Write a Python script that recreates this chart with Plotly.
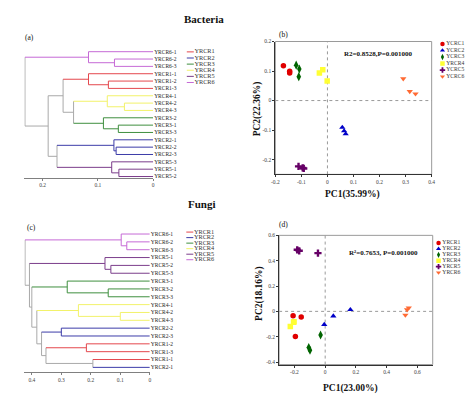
import plotly.graph_objects as go

W, H = 474, 397
FONT = "Liberation Serif"

# ---------------- data ----------------
groups = ["YRCR1", "YRCR2", "YRCR3", "YRCR4", "YRCR5", "YRCR6"]
dendro_colors = ["#e4474d", "#3c3ca8", "#3f8f3f", "#f2f26a", "#7b3d8b", "#c66ad6"]
link_gray = "#a9a9a9"

# Bacteria clustering (a): leaf order top->bottom, merges (child a, child b, height)
bac_leaves = ["YRCR6-1", "YRCR6-2", "YRCR6-3", "YRCR1-1", "YRCR1-2", "YRCR1-3",
              "YRCR4-1", "YRCR4-2", "YRCR4-3", "YRCR3-2", "YRCR3-1", "YRCR3-3",
              "YRCR2-1", "YRCR2-2", "YRCR2-3", "YRCR5-3", "YRCR5-1", "YRCR5-2"]
bac_merge_a = [1, 0, 4, 3, 7, 6, 10, 9, 23, 21, 13, 12, 16, 15, 29, 27, 19]
bac_merge_b = [2, 18, 5, 20, 8, 22, 11, 24, 25, 26, 14, 28, 17, 30, 31, 32, 33]
bac_merge_h = [0.070, 0.117, 0.081, 0.117, 0.052, 0.083, 0.063, 0.090, 0.144,
               0.163, 0.067, 0.071, 0.062, 0.075, 0.174, 0.190, 0.232]
bac_dendro_ticks = [0, 0.1, 0.2]
bac_dendro_ticktext = ["0", "0.1", "0.2"]

# Fungi clustering (c)
fun_leaves = ["YRCR6-1", "YRCR6-2", "YRCR6-3", "YRCR5-1", "YRCR5-2", "YRCR5-3",
              "YRCR3-1", "YRCR3-2", "YRCR3-3", "YRCR4-1", "YRCR4-2", "YRCR4-3",
              "YRCR2-2", "YRCR2-3", "YRCR1-2", "YRCR1-3", "YRCR1-1", "YRCR2-1"]
fun_merge_a = [1, 0, 4, 3, 7, 6, 10, 9, 12, 14, 16, 27, 26, 25, 23, 21, 19]
fun_merge_b = [2, 18, 5, 20, 8, 22, 11, 24, 13, 15, 17, 28, 29, 30, 31, 32, 33]
fun_merge_h = [0.078, 0.097, 0.132, 0.152, 0.141, 0.280, 0.100, 0.242, 0.300,
               0.215, 0.193, 0.352, 0.367, 0.383, 0.400, 0.408, 0.423]
fun_dendro_ticks = [0, 0.1, 0.2, 0.3, 0.4]
fun_dendro_ticktext = ["0", "0.1", "0.2", "0.3", "0.4"]

# PCoA bacteria (b)
bac_pca_labels = ["YCRC1", "YCRC2", "YCRC3", "YRCR4", "YCRC5", "YCRC6"]
bac_pc1 = [[-0.169, -0.145, -0.145],
           [0.057, 0.064, 0.070],
           [-0.120, -0.108, -0.110],
           [-0.031, -0.018, -0.001],
           [-0.111, -0.095, -0.091],
           [0.291, 0.316, 0.338]]
bac_pc2 = [[0.118, 0.099, 0.093],
           [-0.091, -0.103, -0.113],
           [0.120, 0.107, 0.081],
           [0.093, 0.104, 0.066],
           [-0.223, -0.228, -0.230],
           [0.074, 0.031, 0.023]]
bac_x_ticks = [-0.2, -0.1, 0, 0.1, 0.2, 0.3, 0.4]
bac_x_ticktext = ["-0.2", "-0.1", "0", "0.1", "0.2", "0.3", "0.4"]
bac_y_ticks = [-0.2, -0.1, 0, 0.1, 0.2]
bac_y_ticktext = ["-0.2", "-0.1", "0", "0.1", "0.2"]

# PCoA fungi (d)
fun_pca_labels = ["YRCR1", "YRCR2", "YRCR3", "YRCR4", "YRCR5", "YRCR6"]
fun_pc1 = [[-0.209, -0.156, -0.194],
           [-0.006, 0.053, 0.164],
           [-0.030, -0.107, -0.099],
           [-0.227, -0.203, -0.206],
           [-0.182, -0.169, -0.047],
           [0.522, 0.533, 0.544]]
fun_pc2 = [[-0.034, -0.044, -0.198],
           [-0.104, -0.037, 0.013],
           [-0.187, -0.286, -0.307],
           [-0.120, -0.081, -0.086],
           [0.486, 0.478, 0.460],
           [-0.029, 0.013, 0.028]]
fun_x_ticks = [-0.2, 0, 0.2, 0.4, 0.6]
fun_x_ticktext = ["-0.2", "0", "0.2", "0.4", "0.6"]
fun_y_ticks = [-0.4, -0.2, 0, 0.2, 0.4, 0.6]
fun_y_ticktext = ["-0.4", "-0.2", "0", "0.2", "0.4", "0.6"]

pca_symbols = ["circle", "triangle-up", "diamond-tall", "square", "cross", "triangle-down"]
pca_colors = ["#e00000", "#0000c8", "#006400", "#ffff33", "#660066", "#ff6a33"]

# ---------------- helpers ----------------
def pxx(p):
    return p / W

def pxy(p):
    return 1 - p / H

fig = go.Figure()


def add_dendro(leaves, ma, mb, mh, xa, ya):
    n = len(leaves)
    ypos = list(range(n))
    hgt = [0.0] * n
    mem = [{int(name[4]) - 1} for name in leaves]
    segs = {}

    def add(key, xs, ys):
        d = segs.setdefault(key, ([], []))
        d[0].extend(xs + [None])
        d[1].extend(ys + [None])

    for a, b, h in zip(ma, mb, mh):
        for c in (a, b):
            key = next(iter(mem[c])) if len(mem[c]) == 1 else -1
            add(key, [hgt[c], h], [ypos[c], ypos[c]])
        u = mem[a] | mem[b]
        key = next(iter(u)) if len(u) == 1 else -1
        add(key, [h, h], [ypos[a], ypos[b]])
        ypos.append((ypos[a] + ypos[b]) / 2)
        hgt.append(h)
        mem.append(u)

    for key in sorted(segs):
        col = link_gray if key < 0 else dendro_colors[key]
        xs, ys = segs[key]
        fig.add_trace(go.Scatter(x=xs, y=ys, mode="lines", xaxis=xa, yaxis=ya,
                                 line=dict(color=col, width=1), showlegend=False,
                                 hoverinfo="skip"))


def add_pca(pc1, pc2, labels, xa, ya, size_scale=1.0):
    for i in range(len(labels)):
        sym = pca_symbols[i]
        size = 5.5 if sym != "diamond-tall" else 6.5
        if sym == "cross":
            size = 6
        fig.add_trace(go.Scatter(x=pc1[i], y=pc2[i], mode="markers", xaxis=xa, yaxis=ya,
                                 name=labels[i], showlegend=False,
                                 marker=dict(symbol=sym, size=size * size_scale,
                                             color=pca_colors[i], line=dict(width=0))))


def add_legend(labels, x0, y0, dy, kind, fsize):
    ys = [y0 + i * dy for i in range(len(labels))]
    xs = [x0] * len(labels)
    if kind == "line":
        marker = dict(symbol="line-ew", size=5, line=dict(color=dendro_colors, width=1))
    else:
        marker = dict(symbol=pca_symbols, size=4.5, color=pca_colors, line=dict(width=0))
    fig.add_trace(go.Scatter(x=xs, y=ys, mode="markers+text", text=labels,
                             textposition="middle right", xaxis="x5", yaxis="y5",
                             textfont=dict(family=FONT, size=fsize, color="#333"),
                             marker=marker, showlegend=False, hoverinfo="skip"))


add_dendro(bac_leaves, bac_merge_a, bac_merge_b, bac_merge_h, "x", "y")
add_pca(bac_pc1, bac_pc2, bac_pca_labels, "x2", "y2")
add_dendro(fun_leaves, fun_merge_a, fun_merge_b, fun_merge_h, "x3", "y3")
add_pca(fun_pc1, fun_pc2, fun_pca_labels, "x4", "y4")

add_legend(groups, 189.5, 49.5, 6.2, "line", 6.3)
add_legend(groups, 189.0, 232.0, 5.6, "line", 6.3)
add_legend(bac_pca_labels, 446.0, 41.5, 6.6, "marker", 5.6)
add_legend(fun_pca_labels, 442.0, 243.0, 6.0, "marker", 5.6)

# ---------------- axes ----------------
tick_font = dict(family=FONT, size=5.5, color="#444")


def dendro_xaxis(rng, px_left, px_right, yanchor, tv, tt):
    return dict(domain=[pxx(px_left), pxx(px_right)], range=rng, anchor=yanchor,
                showline=True, linecolor="#808080", linewidth=1, ticks="outside",
                ticklen=2, tickwidth=1, tickcolor="#808080", tickvals=tv, ticktext=tt,
                tickfont=tick_font, showgrid=False, zeroline=False)


def dendro_yaxis(leaves, rng, px_bottom, px_top, xanchor):
    return dict(domain=[pxy(px_bottom), pxy(px_top)], range=rng, anchor=xanchor,
                side="right", tickvals=list(range(len(leaves))), ticktext=leaves,
                showline=False, ticks="", showgrid=False, zeroline=False,
                tickfont=dict(family=FONT, size=5.5, color="#222"))


def pca_axis(rng, dom, anchor, tv, tt):
    return dict(domain=dom, range=rng, anchor=anchor, showline=True, linecolor="#333",
                linewidth=1, ticks="outside", ticklen=2, tickwidth=1, tickcolor="#333",
                tickvals=tv, ticktext=tt, tickfont=tick_font, showgrid=False,
                zeroline=False)


# (a) 0.1 per 56.2 px, 0 at x=151.7
a_left = 151.7 - 0.233 * 562
c_left = 148.3 - 0.425 * 300

layout_axes = dict(
    xaxis=dendro_xaxis([0.233, 0], a_left, 151.7, "y", bac_dendro_ticks, bac_dendro_ticktext),
    yaxis=dendro_yaxis(bac_leaves, [17.17, -0.5], 177.0, 45.6, "x"),
    xaxis2=pca_axis([-0.2, 0.4], [pxx(276), pxx(435)], "y2", bac_x_ticks, bac_x_ticktext),
    yaxis2=pca_axis([-0.25, 0.2], [pxy(39 + 0.45 * 299), pxy(39)], "x2", bac_y_ticks, bac_y_ticktext),
    xaxis3=dendro_xaxis([0.425, 0], c_left, 148.3, "y3", fun_dendro_ticks, fun_dendro_ticktext),
    yaxis3=dendro_yaxis(fun_leaves, [17.59, -0.5], 373.7, 230.0, "x3"),
    xaxis4=pca_axis([-0.3, 0.7], [pxx(326.7 - 0.3 * 156.25), pxx(326.7 + 0.7 * 156.25)], "y4",
                    fun_x_ticks, fun_x_ticktext),
    yaxis4=pca_axis([-0.42, 0.6], [pxy(312.3 + 0.42 * 128.3), pxy(312.3 - 0.6 * 128.3)], "x4",
                    fun_y_ticks, fun_y_ticktext),
    xaxis5=dict(domain=[0, 1], range=[0, W], anchor="y5", visible=False, fixedrange=True),
    yaxis5=dict(domain=[0, 1], range=[H, 0], anchor="x5", visible=False, fixedrange=True),
)

shapes = []
for xa, ya in (("x2", "y2"), ("x4", "y4")):
    shapes.append(dict(type="rect", xref=f"{xa} domain", yref=f"{ya} domain", x0=0, x1=1,
                       y0=0, y1=1, line=dict(color="#9a9a9a", width=1), layer="below"))
    shapes.append(dict(type="line", xref=xa, yref=f"{ya} domain", x0=0, x1=0, y0=0, y1=1,
                       line=dict(color="#9a9a9a", width=1, dash="dot"), layer="below"))
    shapes.append(dict(type="line", xref=f"{xa} domain", yref=ya, x0=0, x1=1, y0=0, y1=0,
                       line=dict(color="#9a9a9a", width=1, dash="dot"), layer="below"))


def ann(text, x, y, size, bold=False, angle=0, color="#111"):
    t = f"<b>{text}</b>" if bold else text
    return dict(text=t, x=pxx(x), y=pxy(y), xref="paper", yref="paper", showarrow=False,
                xanchor="center", yanchor="middle", textangle=angle,
                font=dict(family=FONT, size=size, color=color))


annotations = [
    ann("Bacteria", 203, 16, 11, bold=True),
    ann("Fungi", 201, 204, 11, bold=True),
    ann("(a)", 26, 35, 7.5),
    ann("(b)", 284, 32, 7.5),
    ann("(c)", 28, 227, 7.5),
    ann("(d)", 284, 224, 7.5),
    ann("R2=0.8528,P=0.001000", 381, 52, 7, bold=True),
    ann("R²=0.7653, P=0.001000", 386, 253, 7, bold=True),
    ann("PC1(35.99%)", 354, 194, 9.5, bold=True),
    ann("PC2(22.36%)", 258, 107, 9.5, bold=True, angle=-90),
    ann("PC1(23.00%)", 352, 390, 9.5, bold=True),
    ann("PC2(18.16%)", 260, 294, 9.5, bold=True, angle=-90),
]

fig.update_layout(
    width=W, height=H, autosize=False,
    margin=dict(l=0, r=0, t=0, b=0, pad=0),
    paper_bgcolor="white", plot_bgcolor="rgba(0,0,0,0)",
    showlegend=False, shapes=shapes, annotations=annotations,
    font=dict(family=FONT),
    **layout_axes,
)

fig.write_html("out.html", config={"displayModeBar": False},
               post_script="document.body.style.margin='0px';document.body.style.overflow='hidden';")
